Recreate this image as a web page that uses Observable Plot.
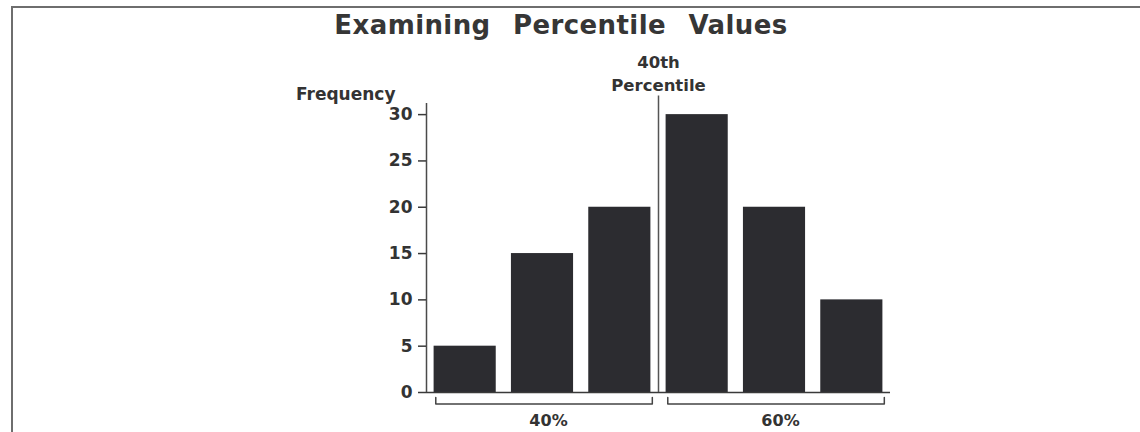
<!DOCTYPE html>
<html>
<head>
<meta charset="utf-8">
<script src="https://cdn.jsdelivr.net/npm/d3@7"></script>
<script src="https://cdn.jsdelivr.net/npm/@observablehq/plot@0.6"></script>
<style>
  html, body { margin: 0; padding: 0; background: #fff; }
  #wrap { position: relative; width: 1140px; height: 432px; overflow: hidden; }
  #frame { position: absolute; left: 11px; top: 6px; right: -4px; bottom: -4px;
           border-left: 2px solid #6e6e6e; border-top: 2px solid #6e6e6e; }
  #title { position: absolute; left: 0; top: 10px; width: 1122px; text-align: center;
           font-family: "DejaVu Sans", sans-serif; font-weight: bold; font-size: 26px;
           letter-spacing: 0.4px; word-spacing: 13px; color: #363636; }
  #chart { position: absolute; left: 0; top: 0; }
</style>
</head>
<body>
<div id="wrap">
  <div id="frame"></div>
  <div id="chart"></div>
  <div id="title">Examining Percentile Values</div>
</div>
<script>
// Frequency of each of the six bins, left to right
const binStart = [0, 1, 2, 3, 4, 5];
const frequency = [5, 15, 20, 30, 20, 10];

// Bins below and above the 40th percentile
const groupLabels = ["40%", "60%"];
const groupStart = [0, 3];
const groupEnd = [3, 6];

// The 40th percentile falls on the boundary after the third bin
const percentileAt = 3;
const percentileLabel = "40th\nPercentile";

const yTicks = [0, 5, 10, 15, 20, 25, 30];
const yLabel = "Frequency";

const bins = binStart.map((lo, i) => ({lo, hi: lo + 1, count: frequency[i]}));
const groups = groupLabels.map((label, i) => ({label, lo: groupStart[i], hi: groupEnd[i]}));

// Bracket under each group: short uprights joined by a horizontal bar
const bracketLeft = 0.12, bracketRight = 0.08, bracketTop = -0.55, bracketBottom = -1.25;
const brackets = groups.flatMap(g => [
  {g: g.label, x: g.lo + bracketLeft, y: bracketTop},
  {g: g.label, x: g.lo + bracketLeft, y: bracketBottom},
  {g: g.label, x: g.hi - bracketRight, y: bracketBottom},
  {g: g.label, x: g.hi - bracketRight, y: bracketTop}
]);

const ink = "#333";
const yMax = 31.2;

const chart = Plot.plot({
  width: 1140,
  height: 432,
  marginLeft: 426,
  marginRight: 250,
  marginTop: 103,
  marginBottom: 40,
  style: {fontFamily: "DejaVu Sans, sans-serif", color: ink, background: "transparent", overflow: "visible"},
  x: {domain: [0, 6], axis: null},
  y: {domain: [0, yMax], axis: null},
  marks: [
    Plot.rectY(bins, {x1: "lo", x2: "hi", y: "count", insetLeft: 7.6, insetRight: 7.6, fill: "#2c2c30"}),
    Plot.ruleY([0], {stroke: "#3a3a3a", strokeWidth: 1.5}),
    Plot.ruleX([0], {y1: 0, y2: yMax, stroke: "#4a4a4a", strokeWidth: 1.5}),
    Plot.axisY({ticks: yTicks, tickSize: 8, tickPadding: 6, fontSize: 17, fontWeight: "bold",
                label: null, stroke: "#3a3a3a", strokeWidth: 1.5, strokeOpacity: 1}),
    Plot.text([yLabel], {frameAnchor: "top-left", textAnchor: "end", dx: -31, dy: -16,
                         fontSize: 17, fontWeight: "bold", fill: ink,
                         letterSpacing: 0.9}),
    Plot.ruleX([percentileAt], {y1: 0, y2: 32, stroke: "#555", strokeWidth: 1.5}),
    Plot.text([percentileAt], {x: d => d, frameAnchor: "top", text: () => percentileLabel,
                               lineAnchor: "middle", dy: -31, lineHeight: 1.4,
                               fontSize: 16.5, fontWeight: "bold", fill: ink, letterSpacing: 0.4}),
    Plot.line(brackets, {x: "x", y: "y", z: "g", stroke: "#444", strokeWidth: 1.5}),
    Plot.text(groups, {x: d => (d.lo + d.hi) / 2, y: -3.1, text: "label", dx: 6,
                       fontSize: 16, fontWeight: "bold", fill: ink, letterSpacing: 1})
  ]
});

document.getElementById("chart").appendChild(chart);
</script>
</body>
</html>
